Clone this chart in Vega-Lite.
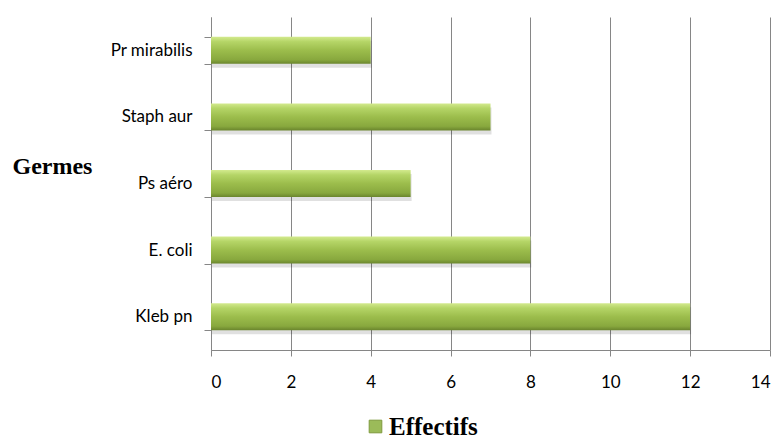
{
  "$schema": "https://vega.github.io/schema/vega-lite/v6.json",
  "width": 559,
  "height": 333,
  "autosize": {"type": "none"},
  "padding": {"left": 211, "top": 17, "right": 12, "bottom": 89},
  "background": "white",
  "config": {"view": {"stroke": null}},
  "data": {"values": [
    {"germe": "Pr mirabilis", "effectif": 4, "serie": "Effectifs"},
    {"germe": "Staph aur", "effectif": 7, "serie": "Effectifs"},
    {"germe": "Ps aéro", "effectif": 5, "serie": "Effectifs"},
    {"germe": "E. coli", "effectif": 8, "serie": "Effectifs"},
    {"germe": "Kleb pn", "effectif": 12, "serie": "Effectifs"}
  ]},
  "encoding": {
    "y": {
      "field": "germe", "type": "nominal", "sort": null,
      "scale": {"paddingInner": 0.595, "paddingOuter": 0.2975},
      "axis": {
        "title": "Germes", "titleAngle": 0, "titleFont": "Liberation Serif", "titleFontWeight": "bold",
        "titleFontSize": 24, "titleColor": "#000", "titleAlign": "left", "titleBaseline": "alphabetic",
        "titleX": -199, "titleY": 156,
        "labelFont": "Lato", "labelFontSize": 17, "labelColor": "#000", "labelPadding": 12,
        "tickBand": "extent", "tickSize": 7, "tickColor": "#868686", "domainColor": "#868686",
        "grid": false
      }
    },
    "x": {
      "field": "effectif", "type": "quantitative",
      "scale": {"domain": [0, 14], "nice": false},
      "axis": {
        "title": null, "values": [0, 2, 4, 6, 8, 10, 12, 14],
        "labelFont": "Lato", "labelFontSize": 17, "labelColor": "#000", "labelPadding": 18,
        "tickSize": 6, "tickColor": "#868686", "domainColor": "#868686",
        "grid": true, "gridColor": "#868686", "gridOpacity": 1
      }
    }
  },
  "layer": [
    {
      "mark": {"type": "bar", "color": "#000000", "opacity": 0.12, "yOffset": 4, "xOffset": 1}
    },
    {
      "mark": {"type": "bar", "fill": {"gradient": "linear", "x1": 0, "y1": 0, "x2": 0, "y2": 1, "stops": [
        {"offset": 0, "color": "#d3ea8e"},
        {"offset": 0.18, "color": "#b5d567"},
        {"offset": 0.5, "color": "#9cbd4c"},
        {"offset": 0.85, "color": "#88a83e"},
        {"offset": 1, "color": "#6a852d"}
      ]}}
    },
    {
      "mark": {"type": "point", "shape": "square", "filled": true, "size": 0, "strokeWidth": 0},
      "encoding": {
        "color": {
          "field": "serie", "type": "nominal",
          "scale": {"range": ["#9bbb59"]},
          "legend": {
            "title": null, "orient": "none", "legendX": 152, "legendY": 397,
            "symbolType": "square", "symbolSize": 160, "symbolStrokeWidth": 1, "symbolStrokeColor": "#7f9a3e",
            "symbolOpacity": 1,
            "labelFont": "Liberation Serif", "labelFontWeight": "bold", "labelFontSize": 25,
            "labelColor": "#000", "labelOffset": 1
          }
        }
      }
    }
  ]
}
